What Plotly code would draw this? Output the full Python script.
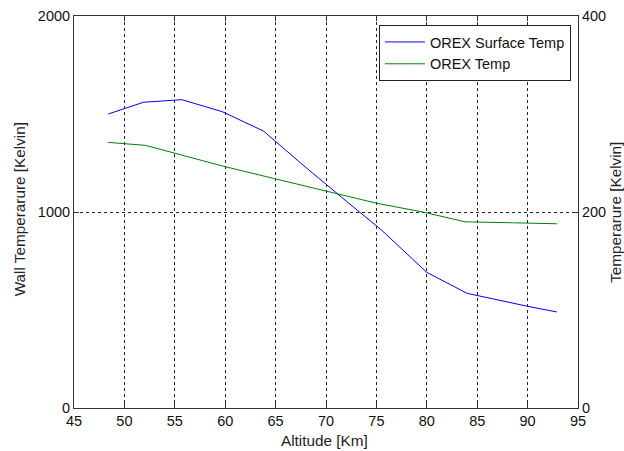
import plotly.graph_objects as go

# Data
surface_alt = [48.4, 51.9, 55.7, 59.7, 63.8, 67.8, 72.0, 75.5, 80.0, 84.0, 89.9, 92.9]
surface_temp = [1500, 1560, 1573, 1512, 1413, 1236, 1056, 908, 692, 585, 520, 490]

orex_alt = [48.4, 52.1, 55.0, 59.7, 64.9, 70.0, 75.0, 79.6, 83.8, 88.5, 92.9]
orex_temp = [271, 268, 260, 247, 234, 221, 209, 200, 190, 189, 188]

x_ticks = [45, 50, 55, 60, 65, 70, 75, 80, 85, 90, 95]
y1_ticks = [0, 1000, 2000]
y2_ticks = [0, 200, 400]

x_title = "Altitude [Km]"
y1_title = "Wall Temperarure [Kelvin]"
y2_title = "Temperarure [Kelvin]"

FONT = "Liberation Sans, Arial, sans-serif"
AX = "#333333"
TXT = "#222222"

fig = go.Figure()
fig.add_trace(go.Scatter(x=surface_alt, y=surface_temp, mode="lines",
                         name="OREX Surface Temp",
                         line=dict(color="#0000ff", width=1), yaxis="y"))
fig.add_trace(go.Scatter(x=orex_alt, y=orex_temp, mode="lines",
                         name="OREX Temp",
                         line=dict(color="#008000", width=1), yaxis="y2"))

fig.update_layout(
    width=624, height=451,
    margin=dict(l=74, r=46, t=16, b=43, autoexpand=False),
    paper_bgcolor="white", plot_bgcolor="white",
    font=dict(family=FONT, size=14.5, color="#111111"),
    showlegend=True,
    legend=dict(x=0.986, y=0.977, xanchor="right", yanchor="top",
                bordercolor="#222222", borderwidth=1, bgcolor="white",
                font=dict(size=14.5, color="#111111"),
                tracegroupgap=0, itemwidth=40),
    xaxis=dict(range=[45, 95], tickvals=x_ticks, ticks="inside", ticklen=5,
               tickcolor=AX, showline=True, linecolor=AX, linewidth=1,
               mirror="ticks", showgrid=True, gridcolor="#222222",
               griddash="3px,3px", gridwidth=1, zeroline=False,
               automargin=False),
    yaxis=dict(range=[0, 2000], tickvals=y1_ticks, ticks="inside", ticklen=5,
               tickcolor=AX, showline=True, linecolor=AX, linewidth=1,
               showgrid=True, gridcolor="#222222", griddash="3px,3px",
               gridwidth=1, zeroline=False, automargin=False),
    yaxis2=dict(range=[0, 400], tickvals=y2_ticks, ticks="inside", ticklen=5,
                tickcolor=AX, showline=True, linecolor=AX, linewidth=1,
                overlaying="y", side="right", showgrid=False, zeroline=False,
                automargin=False),
    annotations=[
        dict(text=x_title, xref="paper", yref="paper", x=0.497, y=-0.082,
             xanchor="center", yanchor="middle", showarrow=False,
             font=dict(size=15.3, color=TXT)),
        dict(text=y1_title, xref="paper", yref="paper", x=-0.109, y=0.507,
             xanchor="center", yanchor="middle", showarrow=False, textangle=-90,
             font=dict(size=15.3, color=TXT)),
        dict(text=y2_title, xref="paper", yref="paper", x=1.073, y=0.5,
             xanchor="center", yanchor="middle", showarrow=False, textangle=-90,
             font=dict(size=15.3, color=TXT)),
    ],
)

# Remove the default page margin so the 624x451 figure fills the window exactly.
fig.write_html("out.html",
               config={"displayModeBar": False},
               post_script="document.body.style.margin='0';"
                           "document.body.style.overflow='hidden';")
